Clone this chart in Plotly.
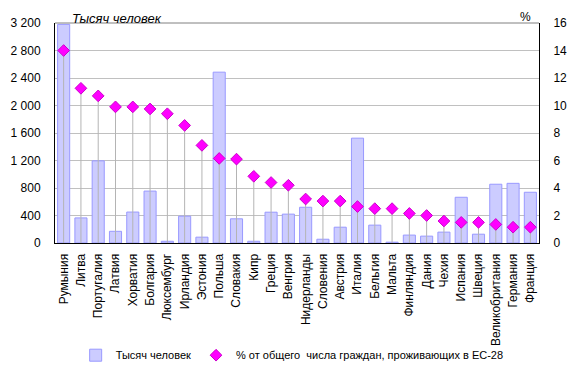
import plotly.graph_objects as go

countries = ["Румыния", "Литва", "Португалия", "Латвия", "Хорватия", "Болгария",
             "Люксембург", "Ирландия", "Эстония", "Польша", "Словакия", "Кипр",
             "Греция", "Венгрия", "Нидерланды", "Словения", "Австрия", "Италия",
             "Бельгия", "Мальта", "Финляндия", "Дания", "Чехия", "Испания",
             "Швеция", "Великобритания", "Германия", "Франция"]
thousands = [3180, 365, 1195, 170, 450, 755, 25, 390, 85, 2485, 352, 25,
             448, 420, 520, 55, 230, 1525, 260, 12, 115, 100, 158, 665,
             128, 855, 868, 738]
percent = [14.0, 11.25, 10.7, 9.9, 9.9, 9.75, 9.4, 8.55, 7.1, 6.15, 6.1, 4.85,
           4.4, 4.2, 3.2, 3.05, 3.05, 2.65, 2.5, 2.5, 2.15, 2.0, 1.6, 1.5,
           1.5, 1.35, 1.15, 1.15]
left_ticks = [0, 400, 800, 1200, 1600, 2000, 2400, 2800, 3200]
left_labels = ["0", "400", "800", "1 200", "1 600", "2 000", "2 400", "2 800", "3 200"]
right_ticks = [0, 2, 4, 6, 8, 10, 12, 14, 16]

font = dict(family="Liberation Sans, Arial, sans-serif", size=12, color="black")

fig = go.Figure()
fig.add_trace(go.Bar(
    x=countries, y=thousands, name="Тысяч человек",
    marker=dict(color="#CCCCFF", line=dict(color="#9999FF", width=1)),
    yaxis="y"))
fig.add_trace(go.Scatter(
    x=countries, y=percent, yaxis="y2", mode="markers",
    name="% от общего  числа граждан, проживающих в ЕС-28",
    marker=dict(symbol="diamond", size=9, color="#FF00FF",
                line=dict(color="#CC00CC", width=1)),
    error_y=dict(type="data", symmetric=False, array=[0] * len(percent),
                 arrayminus=percent, color="#B4B4B4", thickness=1, width=0)))

# page body has an 8px default margin, so the figure is shrunk to compensate
fig.update_layout(
    width=570, height=365,
    margin=dict(l=47, r=39, t=15, b=130, autoexpand=False),
    paper_bgcolor="white", plot_bgcolor="white",
    font=font, bargap=0.3, showlegend=True,
    xaxis=dict(type="category", tickangle=-90, showgrid=False, ticks="",
               range=[-0.5, len(countries) - 0.5], tickmode="linear", dtick=1,
               showline=True, linecolor="black", linewidth=1, automargin=False,
               ticklabelstandoff=5, tickfont=dict(size=12)),
    yaxis=dict(range=[0, 3200], tickvals=left_ticks, ticktext=left_labels,
               showgrid=True, gridcolor="#C0C0C0", gridwidth=1, automargin=False,
               showline=True, linecolor="black", linewidth=1, ticks="",
               ticklabelstandoff=11, zeroline=False, tickfont=dict(size=12)),
    yaxis2=dict(range=[0, 16], tickvals=right_ticks, overlaying="y", side="right",
                showgrid=False, showline=True, linecolor="black", linewidth=1,
                ticks="", zeroline=False, automargin=False, ticklabelstandoff=11,
                tickfont=dict(size=12)),
    legend=dict(orientation="h", x=0.49, xanchor="center", y=-0.51, yanchor="middle",
                font=dict(size=11), itemwidth=30, tracegroupgap=0,
                bgcolor="rgba(0,0,0,0)"),
    shapes=[dict(type="line", xref="paper", yref="paper", x0=0, x1=1, y0=1, y1=1,
                 line=dict(color="#808080", width=1))],
    annotations=[
        dict(text="<i>Тысяч человек</i>", xref="paper", yref="paper", x=0, y=1,
             xanchor="left", yanchor="bottom", xshift=15, yshift=-5,
             showarrow=False, font=dict(size=13)),
        dict(text="%", xref="paper", yref="paper", x=1, y=1,
             xanchor="right", yanchor="bottom", xshift=-6, yshift=-3,
             showarrow=False, font=dict(size=12)),
    ],
)

fig.write_html("out.html")
